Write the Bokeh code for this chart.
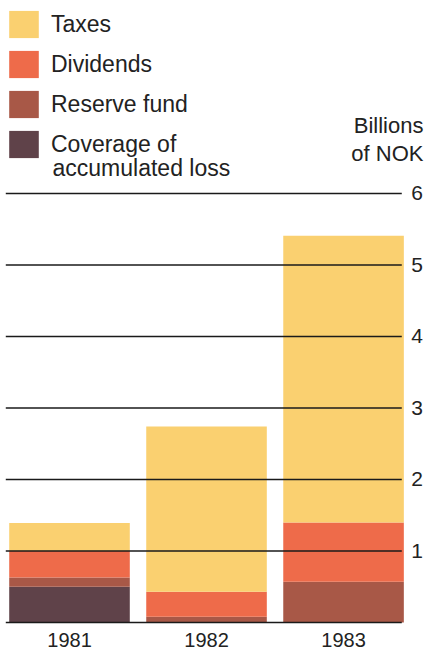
from bokeh.plotting import figure
from bokeh.models import Range1d, Legend, LegendItem, ColumnDataSource, Label
from bokeh.core.properties import value
from bokeh.embed import file_html
from bokeh.resources import INLINE

# ---- data (billions of NOK) ----
years = ["1981", "1982", "1983"]
coverage = [0.50, 0.0, 0.0]
reserve = [0.13, 0.08, 0.57]
dividends = [0.37, 0.35, 0.83]
taxes = [0.39, 2.31, 4.01]
y_ticks = [1, 2, 3, 4, 5, 6]
grid_ticks = [0, 1, 2, 3, 4, 5, 6]

series = ["coverage", "reserve", "dividends", "taxes"]
labels = {"taxes": "Taxes", "dividends": "Dividends", "reserve": "Reserve fund",
          "coverage": "Coverage of"}
label_cont = "accumulated loss"
unit_text = "Billions\nof NOK"
colors = ["#5F4249", "#A85847", "#EE6B4A", "#FAD070"]

FONT = "Liberation Sans"
TXT = "#222222"

xs = list(range(len(years)))
src = ColumnDataSource(dict(x=xs, coverage=coverage, reserve=reserve,
                            dividends=dividends, taxes=taxes))

p = figure(width=428, height=652, output_backend="svg", toolbar_location=None,
           x_range=Range1d(-0.5036, 2.620), y_range=Range1d(-0.4196, 8.671),
           x_axis_location=None, y_axis_location=None,
           min_border_left=0, min_border_right=0,
           min_border_top=2, min_border_bottom=0)
p.outline_line_color = None
p.background_fill_color = "white"
p.border_fill_color = "white"
p.grid.visible = False

rs = p.vbar_stack(series, x="x", width=0.88, source=src, color=colors,
                  line_color=None)

# horizontal value lines, drawn over the bars
n = len(grid_ticks)
p.segment(x0=[-0.465] * n, x1=[2.425] * n, y0=grid_ticks, y1=grid_ticks,
          line_color="#1a1a1a", line_width=1.5)

# value labels at right end of the lines
p.text(x=[2.495] * len(y_ticks), y=y_ticks, text=[str(t) for t in y_ticks],
       text_font=value(FONT), text_font_size="21px", text_color=TXT,
       text_align="left", text_baseline="middle")

# year labels under the bars
p.text(x=xs, y=[-0.24] * len(xs), text=years,
       text_font=value(FONT), text_font_size="20px", text_color=TXT,
       text_align="center", text_baseline="middle", text_line_height=1.0)

# legend
items = [LegendItem(label=labels[s], renderers=[r]) for s, r in zip(series, rs)][::-1]
leg = Legend(items=items, location="top_left", margin=5, padding=0,
             glyph_width=37, glyph_height=34, spacing=6, label_standoff=9,
             label_text_font=FONT, label_text_font_size="23px",
             label_text_color=TXT, border_line_color=None,
             background_fill_alpha=0)
p.add_layout(leg)

# second line of the last legend entry
p.add_layout(Label(x=-0.124, y=6.35, text=label_cont, text_align="left",
                   text_baseline="alphabetic", text_font=FONT,
                   text_font_size="23px", text_color=TXT))

# unit label
p.add_layout(Label(x=2.583, y=7.12, text=unit_text, text_align="right",
                   text_baseline="top", text_font=FONT, text_font_size="22px",
                   text_color=TXT, text_line_height=1.1))

open("out.html", "w").write(file_html(p, INLINE))
